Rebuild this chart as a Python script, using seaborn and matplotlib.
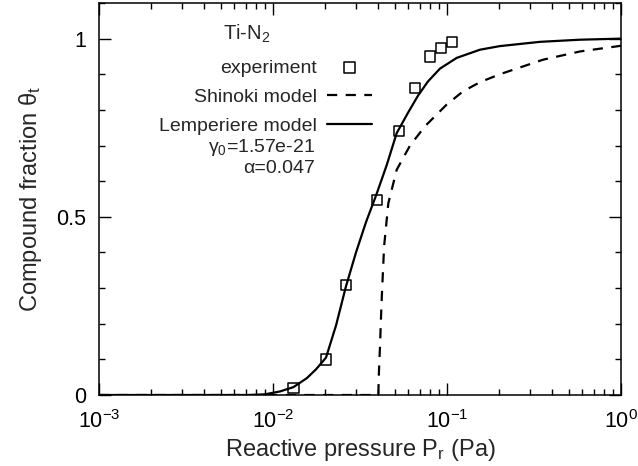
import numpy as np
import pandas as pd
import matplotlib
matplotlib.use("Agg")
import matplotlib.pyplot as plt
from matplotlib.ticker import MultipleLocator, LogLocator, FuncFormatter, NullFormatter
import seaborn as sns

# Experimental compound fraction vs reactive N2 pressure (Ti target)
exp_pressure = [0.0131, 0.0202, 0.0263, 0.0395, 0.0528, 0.0655, 0.0798, 0.0923, 0.1064]
exp_theta = [0.019, 0.100, 0.308, 0.547, 0.740, 0.861, 0.950, 0.974, 0.990]

# Shinoki model curve
shinoki_pressure = [0.001, 0.0403, 0.0406, 0.0409, 0.0412, 0.0417, 0.0422, 0.0435, 0.0460,
                    0.0514, 0.0613, 0.0750, 0.0996, 0.1236, 0.155, 0.201, 0.357, 0.581, 1.0]
shinoki_theta = [0.0, 0.0, 0.06, 0.10, 0.136, 0.21, 0.276, 0.417, 0.538,
                 0.632, 0.700, 0.755, 0.815, 0.852, 0.878, 0.900, 0.941, 0.964, 0.980]

# Lemperiere model curve
lemp_pressure = [0.001, 0.005, 0.00738, 0.0090, 0.01097, 0.01309, 0.01562, 0.01767, 0.02017,
                 0.02302, 0.02627, 0.02999, 0.03423, 0.03945, 0.04502, 0.0514, 0.05969,
                 0.06813, 0.07777, 0.0912, 0.1137, 0.1549, 0.201, 0.342, 0.581, 1.0]
lemp_theta = [0.0, 0.0, 0.0, 0.002, 0.010, 0.022, 0.047, 0.072, 0.105,
              0.195, 0.305, 0.400, 0.485, 0.565, 0.645, 0.735, 0.792,
              0.840, 0.880, 0.916, 0.946, 0.969, 0.979, 0.991, 0.997, 1.0]

x_ticks = [1e-3, 1e-2, 1e-1, 1e0]
y_ticks = [0, 0.5, 1]
y_tick_labels = ["0", "0.5", "1"]

sns.set_theme(style="ticks")
plt.rcParams["font.family"] = ["Liberation Sans", "DejaVu Sans"]
plt.rcParams["mathtext.fontset"] = "custom"
plt.rcParams["mathtext.rm"] = "Liberation Sans"
plt.rcParams["mathtext.it"] = "Liberation Sans:italic"
plt.rcParams["mathtext.default"] = "regular"

fig = plt.figure(figsize=(6.38, 4.66), dpi=100)
ax = fig.add_axes([99 / 638, 1 - 395 / 466, 522 / 638, 392 / 466])

exp_df = pd.DataFrame({"p": exp_pressure, "theta": exp_theta})
shi_df = pd.DataFrame({"p": shinoki_pressure, "theta": shinoki_theta})
lem_df = pd.DataFrame({"p": lemp_pressure, "theta": lemp_theta})

sns.lineplot(data=shi_df, x="p", y="theta", ax=ax, color="black", lw=1.6,
             estimator=None, sort=False, label="Shinoki model", zorder=3)
ax.lines[-1].set_dashes((4.6, 3.8))
sns.lineplot(data=lem_df, x="p", y="theta", ax=ax, color="black", lw=1.6,
             estimator=None, sort=False, label="Lemperiere model", zorder=3)
sns.scatterplot(data=exp_df, x="p", y="theta", ax=ax, marker="s", s=55,
                facecolor="none", edgecolor="black", linewidth=1.1,
                label="experiment", zorder=4)

ax.set_xscale("log")
ax.set_xlim(1e-3, 1)
ax.set_ylim(0, 1.1)

ax.set_xticks(x_ticks)
ax.xaxis.set_major_formatter(FuncFormatter(lambda v, pos: r"$10^{%d}$" % round(np.log10(v))))
ax.xaxis.set_minor_locator(LogLocator(base=10, subs=np.arange(2, 10)))
ax.xaxis.set_minor_formatter(NullFormatter())
ax.set_yticks(y_ticks)
ax.set_yticklabels(y_tick_labels)
ax.yaxis.set_minor_locator(MultipleLocator(0.1))

ax.tick_params(which="both", direction="in", top=True, right=True, width=1.0, colors="black")
ax.tick_params(which="major", length=8.5, labelsize=15.5)
ax.tick_params(axis="x", which="major", pad=11)
ax.tick_params(axis="y", which="major", pad=9)
ax.tick_params(which="minor", length=4.2)
for sp in ax.spines.values():
    sp.set_linewidth(1.1)
    sp.set_color("black")

ax.set_xlabel(r"Reactive pressure P$_r$ (Pa)", fontsize=17, labelpad=3)
ax.set_ylabel(r"Compound fraction θ$_t$", fontsize=17, labelpad=9)

handles, labels = ax.get_legend_handles_labels()
order = [labels.index(k) for k in ["experiment", "Shinoki model", "Lemperiere model"]]
ax.legend([handles[i] for i in order], [labels[i] for i in order],
          loc="upper right", bbox_to_anchor=(0.523, 0.857), frameon=False,
          markerfirst=False, fontsize=14, handlelength=2.3, handletextpad=0.55,
          labelspacing=0.6, borderpad=0, borderaxespad=0, scatterpoints=1)

ax.text(0.2375, 0.922, r"Ti-N$_2$", transform=ax.transAxes, fontsize=14.5,
        ha="left", va="center")
ax.text(0.414, 0.632, r"γ$_0$=1.57e-21", transform=ax.transAxes, fontsize=14,
        ha="right", va="center")
ax.text(0.414, 0.577, "α=0.047", transform=ax.transAxes, fontsize=14,
        ha="right", va="center")

fig.savefig("out.png", dpi=100)
